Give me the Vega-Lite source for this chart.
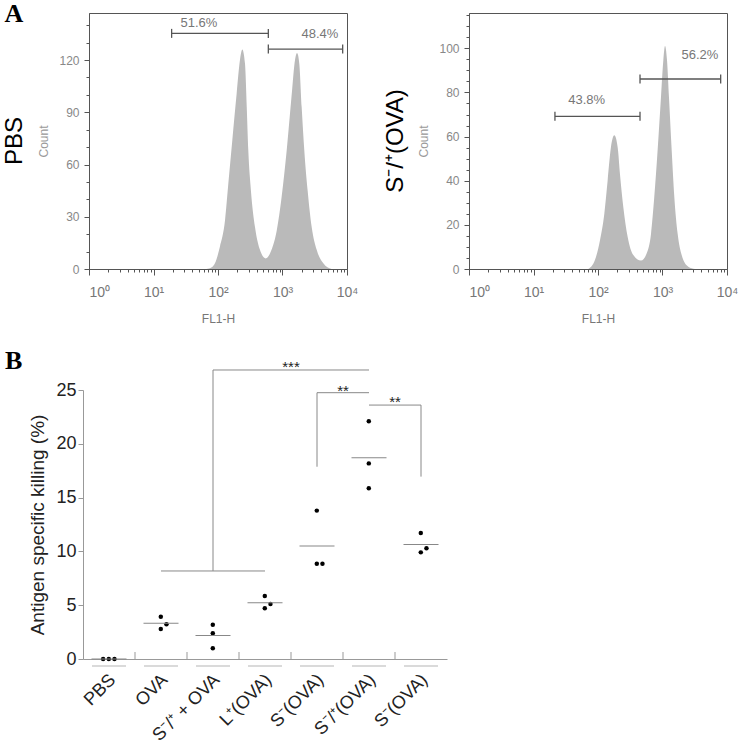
{
  "$schema": "https://vega.github.io/schema/vega-lite/v6.json",
  "background": "white",
  "padding": {"left": 2, "top": 0, "right": 5, "bottom": 5},
  "config": {
    "font": "Liberation Sans",
    "axis": {"grid": false, "labelFont": "Liberation Sans", "titleFont": "Liberation Sans"},
    "view": {"stroke": "#555"}
  },
  "datasets": {
    "pbs": [
      {"fl": 66, "count": 0}, {"fl": 80, "count": 1}, {"fl": 89.7, "count": 3.3}, {"fl": 107, "count": 12.8},
      {"fl": 128.5, "count": 28}, {"fl": 144.5, "count": 49}, {"fl": 166.7, "count": 74}, {"fl": 195, "count": 101},
      {"fl": 219, "count": 120}, {"fl": 238, "count": 126}, {"fl": 262, "count": 118}, {"fl": 279, "count": 93},
      {"fl": 295, "count": 68}, {"fl": 324, "count": 45}, {"fl": 375, "count": 24}, {"fl": 447, "count": 11},
      {"fl": 550, "count": 6.1}, {"fl": 676, "count": 11}, {"fl": 813, "count": 22}, {"fl": 970, "count": 41.5},
      {"fl": 1161, "count": 68}, {"fl": 1380, "count": 99}, {"fl": 1563, "count": 120}, {"fl": 1679, "count": 124},
      {"fl": 1820, "count": 118}, {"fl": 1982, "count": 93}, {"fl": 2178, "count": 68}, {"fl": 2455, "count": 45},
      {"fl": 2838, "count": 24}, {"fl": 3388, "count": 11}, {"fl": 4295, "count": 3.3}, {"fl": 5754, "count": 0}
    ],
    "sova": [
      {"fl": 70.8, "count": 0}, {"fl": 89.7, "count": 4.1}, {"fl": 107.4, "count": 13}, {"fl": 125.3, "count": 25},
      {"fl": 141, "count": 40}, {"fl": 158.5, "count": 55}, {"fl": 179, "count": 60.6}, {"fl": 202, "count": 55},
      {"fl": 219, "count": 43}, {"fl": 247, "count": 28}, {"fl": 288, "count": 14.6}, {"fl": 353, "count": 6.3},
      {"fl": 464, "count": 3.8}, {"fl": 569, "count": 7.1}, {"fl": 664, "count": 16}, {"fl": 746, "count": 32.7},
      {"fl": 841, "count": 54}, {"fl": 948, "count": 78}, {"fl": 1030, "count": 94.6}, {"fl": 1094, "count": 101},
      {"fl": 1175, "count": 94.6}, {"fl": 1259, "count": 78}, {"fl": 1387, "count": 54}, {"fl": 1524, "count": 32.7},
      {"fl": 1718, "count": 16}, {"fl": 1982, "count": 6.3}, {"fl": 2512, "count": 1}, {"fl": 3192, "count": 0}
    ],
    "gatesPBS": [
      {"fl": 19.1, "fl2": 603, "count": 135.3},
      {"fl": 603, "fl2": 8570, "count": 126.3}
    ],
    "labelsPBS": [
      {"fl": 50.7, "count": 141, "label": "51.6%"},
      {"fl": 3800, "count": 135, "label": "48.4%"}
    ],
    "gatesSOVA": [
      {"fl": 21.5, "fl2": 448, "count": 69.2},
      {"fl": 448, "fl2": 7980, "count": 86.1}
    ],
    "labelsSOVA": [
      {"fl": 66.7, "count": 76.5, "label": "43.8%"},
      {"fl": 3800, "count": 96.8, "label": "56.2%"}
    ],
    "killing": [
      {"group": "PBS", "slot": -1, "value": 0}, {"group": "PBS", "slot": 0, "value": 0}, {"group": "PBS", "slot": 1, "value": 0},
      {"group": "OVA", "slot": 0, "value": 3.93}, {"group": "OVA", "slot": 0, "value": 2.79}, {"group": "OVA", "slot": 1, "value": 3.22},
      {"group": "S⁻/⁺ + OVA", "slot": 0, "value": 3.19}, {"group": "S⁻/⁺ + OVA", "slot": 0, "value": 2.39}, {"group": "S⁻/⁺ + OVA", "slot": 0, "value": 1.0},
      {"group": "L⁺(OVA)", "slot": 0, "value": 5.85}, {"group": "L⁺(OVA)", "slot": 0, "value": 4.71}, {"group": "L⁺(OVA)", "slot": 1, "value": 5.11},
      {"group": "S⁻(OVA)", "slot": 0, "value": 13.79}, {"group": "S⁻(OVA)", "slot": 0, "value": 8.86}, {"group": "S⁻(OVA)", "slot": 1, "value": 8.86},
      {"group": "S⁻/⁺(OVA)", "slot": 0, "value": 22.09}, {"group": "S⁻/⁺(OVA)", "slot": 0, "value": 18.18}, {"group": "S⁻/⁺(OVA)", "slot": 0, "value": 15.86},
      {"group": "S⁻(OVA)\u200b", "slot": 0, "value": 11.71}, {"group": "S⁻(OVA)\u200b", "slot": 0, "value": 9.91}, {"group": "S⁻(OVA)\u200b", "slot": 1, "value": 10.29}
    ],
    "hbrackets": [
      {"a": "OVA", "b": "L⁺(OVA)", "y": 8.18},
      {"a": "S⁻/⁺ + OVA", "b": "S⁻/⁺(OVA)", "y": 26.86},
      {"a": "S⁻(OVA)", "b": "S⁻/⁺(OVA)", "y": 24.75},
      {"a": "S⁻/⁺(OVA)", "b": "S⁻(OVA)\u200b", "y": 23.6}
    ],
    "vbrackets": [
      {"a": "S⁻/⁺ + OVA", "y1": 8.18, "y2": 26.86},
      {"a": "S⁻(OVA)", "y1": 17.87, "y2": 24.75},
      {"a": "S⁻(OVA)\u200b", "y1": 16.95, "y2": 23.6}
    ],
    "stars": [
      {"g": "S⁻(OVA)", "y": 26.7, "t": "***"},
      {"g": "S⁻/⁺(OVA)", "y": 24.4, "t": "**"},
      {"g": "S⁻(OVA)\u200b", "y": 23.42, "t": "**"}
    ]
  },
  "spacing": 22,
  "vconcat": [
    {
      "bounds": "flush",
      "spacing": 122,
      "title": {"text": "A", "anchor": "start", "frame": "bounds", "font": "Liberation Serif", "fontSize": 26, "fontWeight": "bold", "color": "#000", "offset": -18, "dx": 2},
      "hconcat": [
        {
          "width": 258, "height": 256,
          "title": {"text": "PBS", "orient": "left", "anchor": "middle", "fontSize": 24, "fontWeight": "normal", "font": "Liberation Sans", "color": "#000", "offset": 11},
          "encoding": {
            "x": {"field": "fl", "type": "quantitative", "title": "FL1-H", "scale": {"type": "log", "domain": [1, 10000]},
              "axis": {"values": [1,2,3,4,5,6,7,8,9,10,20,30,40,50,60,70,80,90,100,200,300,400,500,600,700,800,900,1000,2000,3000,4000,5000,6000,7000,8000,9000,10000],
                "labelExpr": "datum.value==1?'10⁰':datum.value==10?'10¹':datum.value==100?'10²':datum.value==1000?'10³':datum.value==10000?'10⁴':''",
                "tickSize": {"condition": {"test": "indexof([1,10,100,1000,10000],datum.value)>=0", "value": 6}, "value": 3},
                "labelAlign": {"condition": {"test": "datum.value==1", "value": "left"}, "value": "center"},
                "labelFlush": false, "labelOverlap": false, "labelPadding": 10, "labelFontSize": 14, "labelColor": "#777",
                "domainColor": "#555", "tickColor": "#555", "title": "FL1-H", "titleColor": "#777", "titleFontSize": 12, "titleFontWeight": "normal", "titlePadding": 14}},
            "y": {"field": "count", "type": "quantitative", "title": "Count", "scale": {"domain": [0, 147], "nice": false},
              "axis": {"values": [0,10,20,30,40,50,60,70,80,90,100,110,120,130,140],
                "labelExpr": "datum.value%30===0?datum.label:''", "labelOverlap": false,
                "tickSize": {"condition": {"test": "datum.value%30===0", "value": 5}, "value": 3},
                "labelPadding": 5, "labelFontSize": 12, "labelColor": "#888", "domainColor": "#555", "tickColor": "#555",
                "title": "Count", "titleColor": "#999", "titleFontSize": 12, "titleFontWeight": "normal", "titlePadding": 8}}
          },
          "layer": [
            {
              "data": {"name": "pbs"},
              "mark": {"type": "area", "color": "#bababa", "interpolate": "monotone"}
            },
            {
              "data": {"name": "gatesPBS"},
              "mark": {"type": "rule", "color": "#555", "strokeWidth": 1.3},
              "encoding": {"x2": {"field": "fl2"}}
            },
            {
              "data": {"name": "gatesPBS"},
              "transform": [{"fold": ["fl", "fl2"], "as": ["end", "fl"]}],
              "mark": {"type": "point", "shape": "M0,-1L0,1", "filled": false, "stroke": "#555", "strokeWidth": 1.3, "size": 81, "opacity": 1}
            },
            {
              "data": {"name": "labelsPBS"},
              "mark": {"type": "text", "color": "#777", "fontSize": 13, "baseline": "middle"},
              "encoding": {"text": {"field": "label"}}
            }
          ]
        },
        {
          "width": 258, "height": 256,
          "title": {"text": "S⁻/⁺(OVA)", "orient": "left", "anchor": "middle", "fontSize": 24, "fontWeight": "normal", "font": "Liberation Sans", "color": "#000", "offset": 10},
          "encoding": {
            "x": {"field": "fl", "type": "quantitative", "title": "FL1-H", "scale": {"type": "log", "domain": [1, 10000]},
              "axis": {"values": [1,2,3,4,5,6,7,8,9,10,20,30,40,50,60,70,80,90,100,200,300,400,500,600,700,800,900,1000,2000,3000,4000,5000,6000,7000,8000,9000,10000],
                "labelExpr": "datum.value==1?'10⁰':datum.value==10?'10¹':datum.value==100?'10²':datum.value==1000?'10³':datum.value==10000?'10⁴':''",
                "tickSize": {"condition": {"test": "indexof([1,10,100,1000,10000],datum.value)>=0", "value": 6}, "value": 3},
                "labelAlign": {"condition": {"test": "datum.value==1", "value": "left"}, "value": "center"},
                "labelFlush": false, "labelOverlap": false, "labelPadding": 10, "labelFontSize": 14, "labelColor": "#777",
                "domainColor": "#555", "tickColor": "#555", "title": "FL1-H", "titleColor": "#777", "titleFontSize": 12, "titleFontWeight": "normal", "titlePadding": 14}},
            "y": {"field": "count", "type": "quantitative", "title": "Count", "scale": {"domain": [0, 116], "nice": false},
              "axis": {"values": [0,5,10,15,20,25,30,35,40,45,50,55,60,65,70,75,80,85,90,95,100,105,110,115],
                "labelExpr": "datum.value%20===0?datum.label:''", "labelOverlap": false,
                "tickSize": {"condition": {"test": "datum.value%20===0", "value": 5}, "value": 3},
                "labelPadding": 5, "labelFontSize": 12, "labelColor": "#888", "domainColor": "#555", "tickColor": "#555",
                "title": "Count", "titleColor": "#999", "titleFontSize": 12, "titleFontWeight": "normal", "titlePadding": 8}}
          },
          "layer": [
            {
              "data": {"name": "sova"},
              "mark": {"type": "area", "color": "#bababa", "interpolate": "monotone"}
            },
            {
              "data": {"name": "gatesSOVA"},
              "mark": {"type": "rule", "color": "#555", "strokeWidth": 1.3},
              "encoding": {"x2": {"field": "fl2"}}
            },
            {
              "data": {"name": "gatesSOVA"},
              "transform": [{"fold": ["fl", "fl2"], "as": ["end", "fl"]}],
              "mark": {"type": "point", "shape": "M0,-1L0,1", "filled": false, "stroke": "#555", "strokeWidth": 1.3, "size": 81, "opacity": 1}
            },
            {
              "data": {"name": "labelsSOVA"},
              "mark": {"type": "text", "color": "#777", "fontSize": 13, "baseline": "middle"},
              "encoding": {"text": {"field": "label"}}
            }
          ]
        }
      ]
    },
    {
      "width": 358, "height": 269,
      "view": {"stroke": null},
      "title": {"text": "B", "anchor": "start", "frame": "bounds", "font": "Liberation Serif", "fontSize": 26, "fontWeight": "bold", "color": "#000", "offset": -14, "dx": -24},
      "layer": [
        {
          "data": {"name": "killing"},
          "mark": {"type": "circle", "color": "#000", "size": 20, "opacity": 1},
          "encoding": {
            "x": {"field": "group", "type": "nominal", "sort": null, "title": null,
              "scale": {"domain": ["PBS", "OVA", "S⁻/⁺ + OVA", "L⁺(OVA)", "S⁻(OVA)", "S⁻/⁺(OVA)", "S⁻(OVA)\u200b"], "range": [-6, 358], "paddingInner": 0, "paddingOuter": 0},
              "axis": {"title": null, "domainColor": "#999", "ticks": false, "labelAngle": -45, "labelAlign": "right", "labelBaseline": "middle", "labelPadding": 18, "labelOffset": 4, "labelFontSize": 18, "labelColor": "#222"}},
            "xOffset": {"field": "slot", "type": "ordinal", "scale": {"type": "point", "domain": [-1, 0, 1], "range": [17.3, 34.3]}},
            "y": {"field": "value", "type": "quantitative", "title": "Antigen specific killing (%)", "scale": {"domain": [0, 25], "nice": false},
              "axis": {"values": [0, 5, 10, 15, 20, 25], "offset": 6, "tickSize": 5, "domainColor": "#999", "tickColor": "#999", "labelPadding": 2, "labelFontSize": 18, "labelColor": "#222",
                "title": "Antigen specific killing (%)", "titleFontSize": 19, "titleFontWeight": "normal", "titleColor": "#222", "titlePadding": 8}}
          }
        },
        {
          "data": {"name": "killing"},
          "mark": {"type": "tick", "color": "#888", "size": 35, "thickness": 1},
          "encoding": {
            "x": {"field": "group", "type": "nominal", "title": null},
            "y": {"aggregate": "mean", "field": "value", "type": "quantitative", "title": "Antigen specific killing (%)"}
          }
        },
        {
          "data": {"name": "killing"},
          "transform": [{"aggregate": [{"op": "count", "as": "n"}], "groupby": ["group"]}],
          "mark": {"type": "tick", "color": "#999", "size": 34, "thickness": 1},
          "encoding": {
            "x": {"field": "group", "type": "nominal", "title": null},
            "y": {"datum": -0.65, "type": "quantitative", "title": "Antigen specific killing (%)"}
          }
        },
        {
          "data": {"name": "killing"},
          "transform": [{"aggregate": [{"op": "count", "as": "n"}], "groupby": ["group"]}, {"filter": "datum.group !== 'PBS'"}],
          "mark": {"type": "rule", "color": "#999", "strokeWidth": 1},
          "encoding": {
            "x": {"field": "group", "type": "nominal", "bandPosition": 0, "title": null},
            "y": {"datum": 0, "type": "quantitative", "title": "Antigen specific killing (%)"},
            "y2": {"datum": 0.65}
          }
        },
        {
          "data": {"name": "hbrackets"},
          "mark": {"type": "rule", "color": "#888", "strokeWidth": 1},
          "encoding": {
            "x": {"field": "a", "type": "nominal", "bandPosition": 0.5, "title": null},
            "x2": {"field": "b", "bandPosition": 0.5},
            "y": {"field": "y", "type": "quantitative", "title": "Antigen specific killing (%)"}
          }
        },
        {
          "data": {"name": "vbrackets"},
          "mark": {"type": "rule", "color": "#888", "strokeWidth": 1},
          "encoding": {
            "x": {"field": "a", "type": "nominal", "bandPosition": 0.5, "title": null},
            "y": {"field": "y1", "type": "quantitative", "title": "Antigen specific killing (%)"},
            "y2": {"field": "y2"}
          }
        },
        {
          "data": {"name": "stars"},
          "mark": {"type": "text", "color": "#222", "fontSize": 15, "baseline": "alphabetic"},
          "encoding": {
            "x": {"field": "g", "type": "nominal", "bandPosition": 0, "title": null},
            "y": {"field": "y", "type": "quantitative", "title": "Antigen specific killing (%)"},
            "text": {"field": "t"}
          }
        }
      ]
    }
  ]
}
